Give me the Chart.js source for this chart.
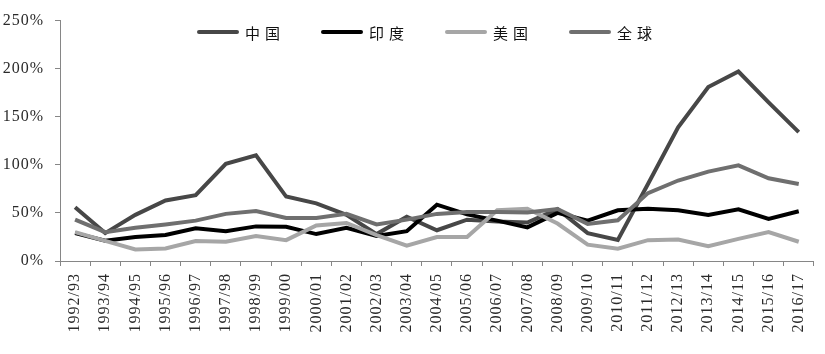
<!DOCTYPE html>
<html><head><meta charset="utf-8">
<script src="https://cdn.jsdelivr.net/npm/chart.js@4.4.1/dist/chart.umd.min.js"></script>
<style>html,body{margin:0;padding:0;background:#fff;}#wrap{width:825px;height:354px;}</style>
</head><body><div id="wrap"><canvas id="c" width="825" height="354"></canvas></div>
<script>
const categories = ["1992/93","1993/94","1994/95","1995/96","1996/97","1997/98","1998/99","1999/00","2000/01","2001/02","2002/03","2003/04","2004/05","2005/06","2006/07","2007/08","2008/09","2009/10","2010/11","2011/12","2012/13","2013/14","2014/15","2015/16","2016/17"];
const seriesNames = ["中国","印度","美国","全球"];
const china  = [56,29,48,63,68.5,101,110,67,60,48,28,46,32,43,41,40,54,29,22,80,139,181,197,165,134];
const india  = [29,21,25,27,34,31,36,35.5,28,34.5,26,31,58.6,48.5,42,35,50,42,52.7,54.4,52.7,47.8,53.7,43.7,51.7];
const usa    = [30,21,12,13,20.7,20,26,21.7,37,39.6,27,16,25,25,52.7,54.4,39,17,12.7,21.7,22.4,15.5,23,30,20];
const world  = [43,30,34.5,38,42,49,52,44.8,44.8,49,38,43,49,51,51,50.5,54,38.6,42.4,70.6,83.7,93,99.5,86,80];
const yTicks = [0,50,100,150,200,250];

const colors = ["#474747","#000000","#a6a6a6","#6f6f6f"];
const values = [china, india, usa, world];
const drawOrder = [4,3,2,1];
const serifFamily = "'Liberation Serif', 'Times New Roman', serif";

Chart.defaults.font.family = serifFamily;
Chart.defaults.font.size = 16;
Chart.defaults.color = '#2a2a2a';

const spacingPlugin = {
  id: 'spacing',
  beforeUpdate(chart){ chart.ctx.letterSpacing = '1px'; },
  beforeDraw(chart){ chart.ctx.letterSpacing = '1px'; }
};
const legendPlugin = {
  id: 'customLegend',
  afterDraw(chart){
    const ctx = chart.ctx;
    ctx.save();
    const y = 32;
    let x = 197;
    chart.data.datasets.forEach((ds) => {
      ctx.beginPath();
      ctx.strokeStyle = ds.borderColor;
      ctx.lineWidth = 4;
      ctx.lineCap = 'round';
      ctx.moveTo(x + 2, y);
      ctx.lineTo(x + 40, y);
      ctx.stroke();
      ctx.fillStyle = '#111';
      ctx.font = "15px 'Noto Sans CJK SC', sans-serif";
      ctx.letterSpacing = '5px';
      ctx.textBaseline = 'middle';
      ctx.textAlign = 'left';
      ctx.fillText(ds.label, x + 48, y + 1);
      x += 124;
    });
    ctx.restore();
  }
};

new Chart(document.getElementById('c'), {
  type: 'line',
  data: {
    labels: categories,
    datasets: seriesNames.map((n, i) => ({
      label: n,
      data: values[i],
      borderColor: colors[i],
      backgroundColor: colors[i],
      borderWidth: 4,
      pointRadius: 0,
      tension: 0,
      fill: false,
      order: drawOrder[i]
    }))
  },
  options: {
    responsive: false,
    animation: false,
    layout: { padding: { top: 18, right: 3, left: 0, bottom: 0 } },
    plugins: { legend: { display: false }, tooltip: { enabled: false } },
    scales: {
      x: {
        offset: true,
        grid: { display: true, drawOnChartArea: false, offset: true, tickLength: 5, color: '#868686', lineWidth: 1 },
        border: { display: true, color: '#868686', width: 1 },
        ticks: { minRotation: 90, maxRotation: 90, autoSkip: false, padding: 7, color: '#2a2a2a', font: { family: serifFamily, size: 16 } },
        afterFit(s){ s.height = 93; }
      },
      y: {
        min: 0, max: 250,
        afterBuildTicks(s){ s.ticks = yTicks.map(v => ({ value: v })); },
        grid: { display: true, drawOnChartArea: false, tickLength: 5, color: '#868686', lineWidth: 1 },
        border: { display: true, color: '#868686', width: 1 },
        ticks: { padding: 11, color: '#2a2a2a', font: { family: serifFamily, size: 16 }, callback: v => v + '%' },
        afterFit(s){ s.width = 60; }
      }
    }
  },
  plugins: [spacingPlugin, legendPlugin]
});
</script>
</body></html>
